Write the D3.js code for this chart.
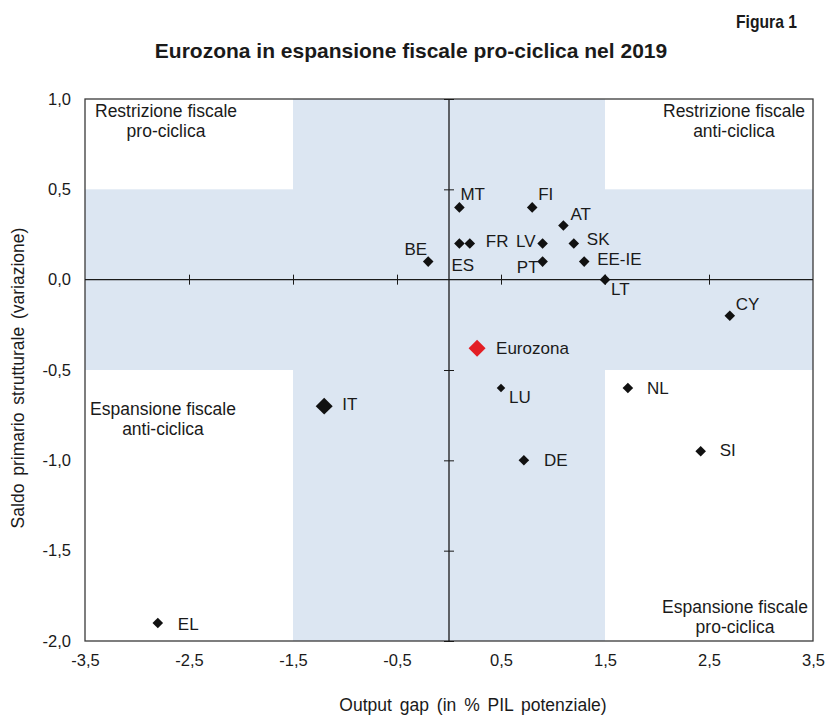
<!DOCTYPE html>
<html>
<head>
<meta charset="utf-8">
<script src="https://cdn.jsdelivr.net/npm/d3@7"></script>
<style>
  body { margin: 0; background: #fff; }
  svg text { font-family: "Liberation Sans", Arial, sans-serif; fill: #1a1a1a; }
</style>
</head>
<body>
<div class="chart"></div>
<script>
// Data
const countries = ['MT', 'FI', 'AT', 'ES', 'FR', 'LV', 'SK', 'BE', 'PT', 'EE-IE', 'LT', 'CY', 'Eurozona', 'LU', 'NL', 'IT', 'DE', 'SI', 'EL']
const outputGap = [0.1, 0.8, 1.1, 0.1, 0.2, 0.9, 1.2, -0.2, 0.9, 1.3, 1.5, 2.7, 0.27, 0.5, 1.72, -1.2, 0.72, 2.42, -2.8]
const saldo = [0.4, 0.4, 0.3, 0.2, 0.2, 0.2, 0.2, 0.1, 0.1, 0.1, 0.0, -0.2, -0.38, -0.6, -0.6, -0.7, -1.0, -0.95, -1.9]
const xTicks = [-3.5, -2.5, -1.5, -0.5, 0.5, 1.5, 2.5, 3.5]
const yTicks = [1.0, 0.5, 0.0, -0.5, -1.0, -1.5, -2.0]

// label placement (dx, dy, anchor) relative to each marker
const labelPos = {
  'MT': [1, -7, 'start'], 'FI': [6, -7, 'start'], 'AT': [7, -5, 'start'],
  'ES': [-8, 27, 'start'], 'FR': [16, 3, 'start'], 'LV': [-7, 3, 'end'],
  'SK': [13, 1, 'start'], 'BE': [-1, -7, 'end'], 'PT': [-4, 11, 'end'],
  'EE-IE': [13, 3, 'start'], 'LT': [6, 15, 'start'], 'CY': [6, -6, 'start'],
  'Eurozona': [19, 6, 'start'], 'LU': [8, 15, 'start'], 'NL': [19, 6, 'start'],
  'IT': [18, 4, 'start'], 'DE': [20, 6, 'start'], 'SI': [19, 5, 'start'],
  'EL': [20, 7, 'start']
}
// marker area (square side^2) per point
const markerArea = d => d === 'Eurozona' || d === 'IT' ? 144 : (d === 'LU' ? 36 : 56)

const points = countries.map((c, i) => ({ name: c, x: outputGap[i], y: saldo[i] }))

const width = 839
const height = 715
const margin = { top: 99, right: 26, bottom: 74, left: 85 }

const svg = d3.select('.chart')
  .append('svg')
  .attr('width', width)
  .attr('height', height)

const x = d3.scaleLinear().domain([-3.5, 3.5]).range([margin.left, width - margin.right])
const y = d3.scaleLinear().domain([-2.0, 1.0]).range([height - margin.bottom, margin.top])

const fmt = d => d3.format('.1f')(d).replace('.', ',').replace('−', '-')
const band = '#dce6f2'

// shaded bands
svg.append('rect')
  .attr('x', x(-1.5)).attr('y', y(1.0))
  .attr('width', x(1.5) - x(-1.5)).attr('height', y(-2.0) - y(1.0))
  .attr('fill', band)
svg.append('rect')
  .attr('x', x(-3.5)).attr('y', y(0.5))
  .attr('width', x(3.5) - x(-3.5)).attr('height', y(-0.5) - y(0.5))
  .attr('fill', band)

// plot border
svg.append('rect')
  .attr('x', x(-3.5)).attr('y', y(1.0))
  .attr('width', x(3.5) - x(-3.5)).attr('height', y(-2.0) - y(1.0))
  .attr('fill', 'none')
  .attr('stroke', '#3a3a3a')
  .attr('stroke-width', 1.3)

// zero lines with cross ticks
const innerX = xTicks.slice(1, -1)
const innerY = yTicks.filter(d => d !== 0)
const crossX = g => g.call(s => s.select('.domain').remove()).selectAll('text').remove()
svg.append('g').attr('transform', `translate(0,${y(0)})`)
  .call(d3.axisBottom(x).tickValues(innerX).tickSize(5).tickFormat(''))
  .call(crossX)
svg.append('g').attr('transform', `translate(0,${y(0)})`)
  .call(d3.axisTop(x).tickValues(innerX).tickSize(5).tickFormat(''))
  .call(crossX)
svg.append('g').attr('transform', `translate(${x(0)},0)`)
  .call(d3.axisLeft(y).tickValues(innerY).tickSize(5).tickFormat(''))
  .call(crossX)
svg.append('g').attr('transform', `translate(${x(0)},0)`)
  .call(d3.axisRight(y).tickValues(innerY).tickSize(5).tickFormat(''))
  .call(crossX)
svg.selectAll('.tick line').attr('stroke', '#1a1a1a')

svg.append('line')
  .attr('x1', x(-3.5)).attr('x2', x(3.5))
  .attr('y1', y(0)).attr('y2', y(0))
  .attr('stroke', '#1a1a1a').attr('stroke-width', 1.3)
svg.append('line')
  .attr('x1', x(0)).attr('x2', x(0))
  .attr('y1', y(1.0)).attr('y2', y(-2.0))
  .attr('stroke', '#1a1a1a').attr('stroke-width', 1.3)

// tick labels
const xAxis = svg.append('g')
  .attr('transform', `translate(0,${y(-2.0)})`)
  .call(d3.axisBottom(x).tickValues(xTicks).tickSize(0).tickPadding(13).tickFormat(fmt))
xAxis.select('.domain').remove()
xAxis.selectAll('text').attr('font-size', 16.5)

const yAxis = svg.append('g')
  .attr('transform', `translate(${x(-3.5)},0)`)
  .call(d3.axisLeft(y).tickValues(yTicks).tickSize(0).tickPadding(14).tickFormat(fmt))
yAxis.select('.domain').remove()
yAxis.selectAll('text').attr('font-size', 16.5)

// quadrant notes
const notes = [
  { lines: ['Restrizione fiscale', 'pro-ciclica'], cx: 166, y0: 117 },
  { lines: ['Restrizione fiscale', 'anti-ciclica'], cx: 734, y0: 117 },
  { lines: ['Espansione fiscale', 'anti-ciclica'], cx: 163, y0: 415 },
  { lines: ['Espansione fiscale', 'pro-ciclica'], cx: 735, y0: 613 }
]
notes.forEach(n => {
  svg.append('text')
    .attr('text-anchor', 'middle')
    .attr('font-size', 17.5)
    .selectAll('tspan')
    .data(n.lines)
    .enter()
    .append('tspan')
    .attr('x', n.cx)
    .attr('y', (d, i) => n.y0 + i * 20)
    .text(d => d)
})

// markers
svg.append('g')
  .selectAll('path')
  .data(points)
  .enter()
  .append('path')
  .attr('transform', d => `translate(${x(d.x)},${y(d.y)}) rotate(45)`)
  .attr('d', d => d3.symbol(d3.symbolSquare, markerArea(d.name))())
  .attr('fill', d => d.name === 'Eurozona' ? '#e31e24' : '#111')

// point labels
svg.append('g')
  .selectAll('text')
  .data(points)
  .enter()
  .append('text')
  .attr('x', d => x(d.x) + labelPos[d.name][0])
  .attr('y', d => y(d.y) + labelPos[d.name][1])
  .attr('text-anchor', d => labelPos[d.name][2])
  .attr('font-size', 17)
  .text(d => d.name)

// titles
svg.append('text')
  .attr('x', 736).attr('y', 28)
  .attr('font-size', 19)
  .attr('font-weight', 'bold')
  .attr('textLength', 61)
  .attr('lengthAdjust', 'spacingAndGlyphs')
  .text('Figura 1')

svg.append('text')
  .attr('x', 411).attr('y', 58)
  .attr('text-anchor', 'middle')
  .attr('font-size', 21)
  .attr('font-weight', 'bold')
  .text('Eurozona in espansione fiscale pro-ciclica nel 2019')

svg.append('text')
  .attr('x', 473).attr('y', 711)
  .attr('text-anchor', 'middle')
  .attr('font-size', 17.5)
  .attr('word-spacing', 3)
  .text('Output gap (in % PIL potenziale)')

svg.append('text')
  .attr('transform', 'translate(24,378) rotate(-90)')
  .attr('text-anchor', 'middle')
  .attr('font-size', 17.5)
  .attr('word-spacing', 3)
  .text('Saldo primario strutturale (variazione)')
</script>
</body>
</html>
